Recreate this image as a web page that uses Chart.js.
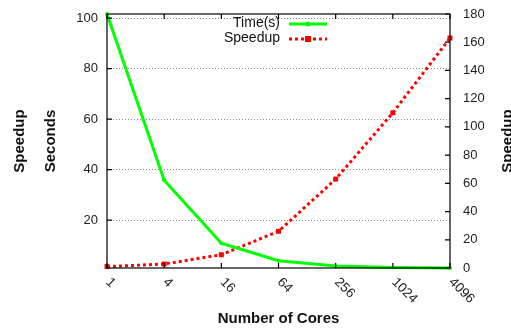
<!DOCTYPE html>
<html>
<head>
<meta charset="utf-8">
<script src="https://cdn.jsdelivr.net/npm/chart.js@4"></script>
<style>
  html, body { margin: 0; padding: 0; background: #fff; }
  #wrap { width: 511px; height: 330px; }
</style>
</head>
<body>
<div id="wrap"><canvas id="chartCanvas" width="511" height="330"></canvas></div>
<script>
    // Données
    const cores = ['1', '4', '16', '64', '256', '1024', '4096'];
    const timeSeconds = [101.6, 35.8, 10.8, 3.9, 1.8, 1.2, 1.0];
    const speedup = [1, 2.8, 9.4, 26, 63, 110, 163];
    const secondsTicks = [20, 40, 60, 80, 100];

    const FONT = '"Liberation Sans", Arial, Helvetica, sans-serif';

    // Plugin : cadre, graduations intérieures, étiquettes x inclinées, légende, titre droit
    const gnuplotLook = {
        id: 'gnuplotLook',
        afterDraw(chart) {
            const ctx = chart.ctx;
            const area = chart.chartArea;
            const x = chart.scales.x;
            const y = chart.scales.y;
            const y2 = chart.scales.y2;

            ctx.save();
            ctx.strokeStyle = '#000';
            ctx.lineWidth = 1.2;
            ctx.setLineDash([]);
            ctx.strokeRect(area.left, area.top, area.right - area.left, area.bottom - area.top);

            // graduations vers l'intérieur
            ctx.beginPath();
            cores.forEach((c, i) => {
                const px = x.getPixelForValue(i);
                ctx.moveTo(px, area.bottom); ctx.lineTo(px, area.bottom - 5);
                ctx.moveTo(px, area.top); ctx.lineTo(px, area.top + 5);
            });
            secondsTicks.forEach(v => {
                const py = y.getPixelForValue(v);
                ctx.moveTo(area.left, py); ctx.lineTo(area.left + 5, py);
            });
            y2.ticks.forEach(t => {
                const py = y2.getPixelForValue(t.value);
                ctx.moveTo(area.right, py); ctx.lineTo(area.right - 5, py);
            });
            ctx.stroke();

            // étiquettes de l'axe x inclinées
            ctx.fillStyle = '#222';
            ctx.font = '13.5px ' + FONT;
            ctx.textAlign = 'left';
            ctx.textBaseline = 'middle';
            cores.forEach((c, i) => {
                const px = x.getPixelForValue(i);
                ctx.save();
                ctx.translate(px + 1, area.bottom + 12);
                ctx.rotate(Math.PI / 4);
                ctx.fillText(c, 0, 0);
                ctx.restore();
            });

            // légende
            ctx.font = '14px ' + FONT;
            ctx.textAlign = 'right';
            chart.data.datasets.forEach((ds, i) => {
                const ly = 23 + i * 15;
                ctx.fillStyle = '#111';
                ctx.fillText(ds.label, 280, ly);
                ctx.strokeStyle = ds.borderColor;
                ctx.lineWidth = 3;
                ctx.setLineDash(ds.borderDash || []);
                ctx.beginPath();
                ctx.moveTo(289, ly + 1);
                ctx.lineTo(327, ly + 1);
                ctx.stroke();
                ctx.setLineDash([]);
                ctx.fillStyle = ds.borderColor;
                if (ds.pointStyle === 'rect') {
                    ctx.fillRect(305, ly - 2, 6, 6);
                } else {
                    ctx.beginPath();
                    ctx.arc(308, ly + 1, 2.5, 0, Math.PI * 2);
                    ctx.fill();
                }
            });

            // titre de l'axe de droite (coupé par le bord, comme l'original)
            ctx.fillStyle = '#111';
            ctx.font = 'bold 15px ' + FONT;
            ctx.textAlign = 'center';
            ctx.textBaseline = 'alphabetic';
            ctx.save();
            ctx.translate(512, (area.top + area.bottom) / 2);
            ctx.rotate(-Math.PI / 2);
            ctx.fillText('Speedup', 0, 0);
            ctx.restore();
            ctx.restore();
        }
    };

    // Pas de marge automatique au-dessus / en dessous des axes verticaux
    function noVerticalPadding(scale) {
        scale.paddingTop = 0;
        scale.paddingBottom = 0;
    }

    const chartCanvas = document.getElementById('chartCanvas');

    new Chart(chartCanvas, {
        type: 'line',
        data: {
            labels: cores,
            datasets: [{
                label: 'Time(s)',
                data: timeSeconds,
                yAxisID: 'y',
                borderColor: '#00ff00',
                backgroundColor: '#00ff00',
                borderWidth: 3,
                pointStyle: 'circle',
                pointRadius: 2,
                pointBorderWidth: 0,
                tension: 0,
                clip: false
            }, {
                label: 'Speedup',
                data: speedup,
                yAxisID: 'y2',
                borderColor: '#ff0000',
                backgroundColor: '#ff0000',
                borderWidth: 3,
                borderDash: [3, 3],
                pointStyle: 'rect',
                pointRadius: 3.5,
                pointBorderWidth: 0,
                tension: 0,
                clip: false
            }]
        },
        options: {
            responsive: false,
            animation: false,
            devicePixelRatio: 1,
            layout: { padding: { top: 14, left: 0, right: 0, bottom: 0 } },
            plugins: {
                legend: { display: false },
                tooltip: { enabled: false }
            },
            scales: {
                x: {
                    type: 'category',
                    offset: false,
                    grid: { display: false, drawTicks: false },
                    border: { display: false },
                    ticks: { display: false },
                    title: {
                        display: true,
                        text: 'Number of Cores',
                        color: '#111',
                        font: { family: FONT, size: 15, weight: 'bold', lineHeight: 1.2 },
                        padding: { top: 0, bottom: 2 }
                    },
                    afterFit(scale) {
                        scale.height = 62;
                        scale.paddingLeft = 0;
                        scale.paddingRight = 0;
                    }
                },
                y: {
                    position: 'left',
                    min: 1,
                    max: 101.6,
                    afterBuildTicks(scale) {
                        scale.ticks = secondsTicks.map(v => ({ value: v }));
                    },
                    grid: {
                        drawTicks: false,
                        color: '#888',
                        lineWidth: 1
                    },
                    border: { display: false, dash: [1, 2] },
                    ticks: {
                        color: '#222',
                        padding: 9,
                        font: { family: FONT, size: 13 }
                    },
                    title: {
                        display: true,
                        text: ['Speedup', 'Seconds'],
                        color: '#111',
                        font: { family: FONT, size: 15, weight: 'bold', lineHeight: 2.067 },
                        padding: { top: 4, bottom: 0 }
                    },
                    afterFit(scale) {
                        scale.width = 107;
                        noVerticalPadding(scale);
                    }
                },
                y2: {
                    position: 'right',
                    min: 0,
                    max: 180,
                    ticks: {
                        stepSize: 20,
                        color: '#222',
                        padding: 13,
                        font: { family: FONT, size: 13 }
                    },
                    grid: { display: false, drawTicks: false },
                    border: { display: false },
                    afterFit(scale) {
                        scale.width = 61;
                        noVerticalPadding(scale);
                    }
                }
            }
        },
        plugins: [gnuplotLook]
    });
</script>
</body>
</html>
